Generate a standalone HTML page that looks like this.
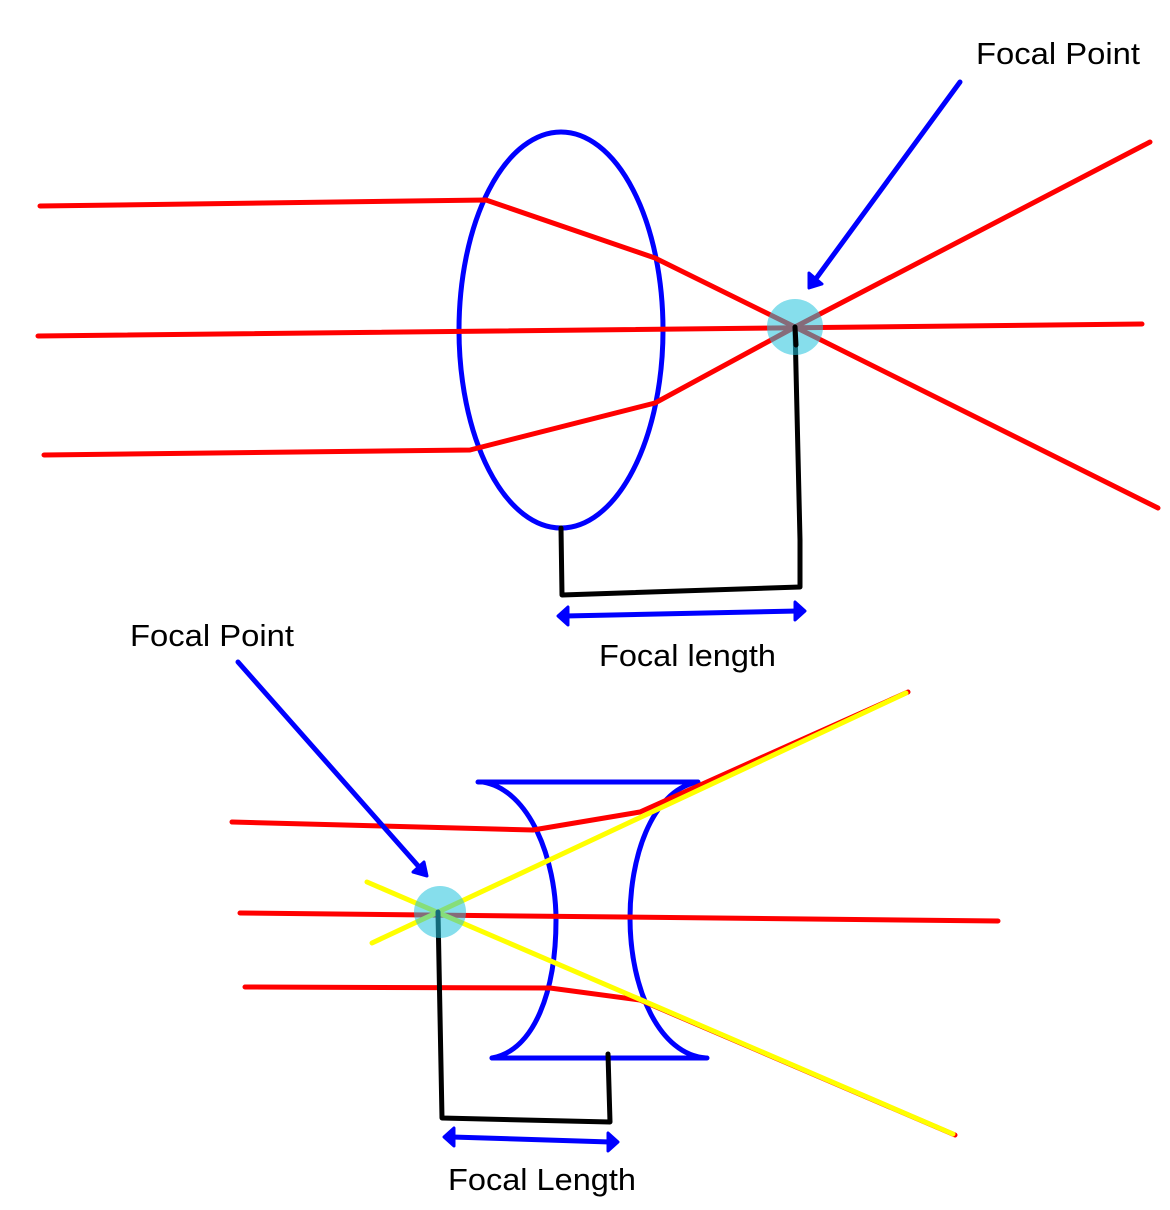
<!DOCTYPE html>
<html><head><meta charset="utf-8"><style>
html,body{margin:0;padding:0;background:#fff;}
svg{display:block}
text{font-family:"Liberation Sans",sans-serif;font-size:31px;fill:#000}
</style></head><body>
<svg width="1170" height="1210" viewBox="0 0 1170 1210" xmlns="http://www.w3.org/2000/svg">
<g fill="none" stroke-linecap="round" stroke-linejoin="round">
<ellipse cx="561" cy="330" rx="102" ry="198" stroke="#0000ff" stroke-width="5"/>
<g stroke="#ff0000" stroke-width="5">
<polyline points="40,206 486,200 655,258 795,327 1158,508"/>
<polyline points="44,455 470,450 655,403 795,327 1150,142"/>
<polyline points="38,336 1142,324"/>
</g>
<polyline points="561,528 562,595 800,587 800,540 795,327" stroke="#000" stroke-width="5"/>
<line x1="565" y1="616" x2="798" y2="611" stroke="#0000ff" stroke-width="5"/>
<path d="M558,616 L568,607 L568,625 Z M805,611 L795,602 L795,620 Z" fill="#0000ff" stroke="#0000ff" stroke-width="3"/>
<line x1="960" y1="82" x2="815" y2="280" stroke="#0000ff" stroke-width="5"/>
<path d="M809,288 L809,273 L822,284 Z" fill="#0000ff" stroke="#0000ff" stroke-width="3"/>
<circle cx="795" cy="327" r="28" fill="#22c3dc" fill-opacity="0.55" stroke="none"/>
<line x1="795" y1="327" x2="796" y2="345" stroke="#000" stroke-width="5"/>

<g stroke="#0000ff" stroke-width="5">
<line x1="478" y1="782" x2="698" y2="782"/>
<line x1="492" y1="1058" x2="707" y2="1058"/>
<path d="M483,782 C530,790 556,860 556,920 C556,990 535,1050 492,1058"/>
<path d="M697,782 C650,792 630,860 630,918 C630,990 660,1055 706,1058"/>
</g>
<g stroke="#ff0000" stroke-width="5">
<polyline points="232,822 533,830 640,812 908,692"/>
<polyline points="240,913 998,921"/>
<polyline points="245,987 550,988 640,1000 955,1135"/>
</g>
<g stroke="#ffff00" stroke-width="5">
<line x1="372" y1="943" x2="906" y2="693"/>
<line x1="367" y1="882" x2="953" y2="1134"/>
</g>
<polyline points="438,912 442,1118 610,1122 608,1054" stroke="#000" stroke-width="5"/>
<line x1="452" y1="1137" x2="610" y2="1142" stroke="#0000ff" stroke-width="5"/>
<path d="M444,1137 L454,1128 L454,1146 Z M618,1142 L608,1133 L608,1151 Z" fill="#0000ff" stroke="#0000ff" stroke-width="3"/>
<line x1="238" y1="662" x2="420" y2="868" stroke="#0000ff" stroke-width="5"/>
<path d="M427,876 L413,872 L424,862 Z" fill="#0000ff" stroke="#0000ff" stroke-width="3"/>
<circle cx="440" cy="912" r="26" fill="#22c3dc" fill-opacity="0.55" stroke="none"/>
</g>
<text x="976" y="64" textLength="164" lengthAdjust="spacingAndGlyphs">Focal Point</text>
<text x="599" y="666" textLength="177" lengthAdjust="spacingAndGlyphs">Focal length</text>
<text x="130" y="646" textLength="164" lengthAdjust="spacingAndGlyphs">Focal Point</text>
<text x="448" y="1190" textLength="188" lengthAdjust="spacingAndGlyphs">Focal Length</text>
</svg>
</body></html>
